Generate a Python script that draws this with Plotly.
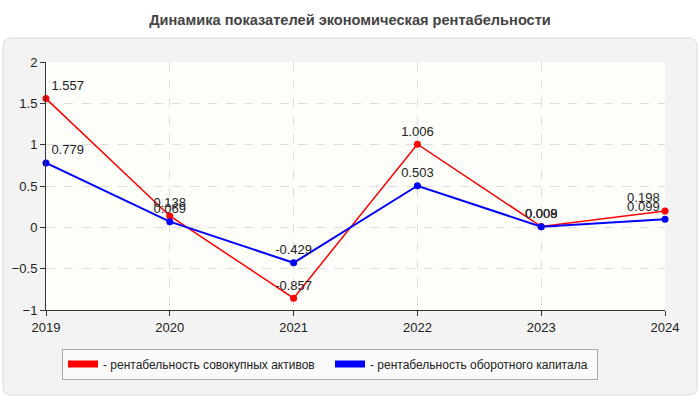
import plotly.graph_objects as go

years = [2019, 2020, 2021, 2022, 2023, 2024]
assets_return = [1.557, 0.138, -0.857, 1.006, 0.009, 0.198]
capital_return = [0.779, 0.069, -0.429, 0.503, 0.008, 0.099]

name_assets = "- рентабельность совокупных активов"
name_capital = "- рентабельность оборотного капитала"

# plot area in pixels: x 46..665, y 62..310
L, R, T, B = 46, 35, 62, 90
W, H = 700 - L - R, 400 - T - B


def px(x):
    return (x - L) / W


def py(y):
    return (400 - B - y) / H


def rounded(x0, y0, x1, y1, r):
    # rounded rect in paper coords from pixel coords
    return (f"M {px(x0 + r)},{py(y0)} L {px(x1 - r)},{py(y0)} Q {px(x1)},{py(y0)} {px(x1)},{py(y0 + r)} "
            f"L {px(x1)},{py(y1 - r)} Q {px(x1)},{py(y1)} {px(x1 - r)},{py(y1)} "
            f"L {px(x0 + r)},{py(y1)} Q {px(x0)},{py(y1)} {px(x0)},{py(y1 - r)} "
            f"L {px(x0)},{py(y0 + r)} Q {px(x0)},{py(y0)} {px(x0 + r)},{py(y0)} Z")


# labels centred above the points, kept inside the plot at the ends
positions = ["top right"] + ["top center"] * (len(years) - 2) + ["top left"]

fig = go.Figure()
fig.add_trace(go.Scatter(x=years, y=assets_return, mode="lines+markers+text",
                         line=dict(color="#ff0000", width=1.5), marker=dict(color="#ff0000", size=7),
                         text=[str(v) for v in assets_return], textposition=positions,
                         textfont=dict(size=13, color="#222"), showlegend=False, cliponaxis=False))
fig.add_trace(go.Scatter(x=years, y=capital_return, mode="lines+markers+text",
                         line=dict(color="#0000ff", width=2), marker=dict(color="#0000ff", size=7),
                         text=[str(v) for v in capital_return], textposition=positions,
                         textfont=dict(size=13, color="#222"), showlegend=False, cliponaxis=False))
# legend entries
fig.add_trace(go.Scatter(x=[None], y=[None], mode="lines", name=name_assets,
                         line=dict(color="#ff0000", width=7)))
fig.add_trace(go.Scatter(x=[None], y=[None], mode="lines", name=name_capital,
                         line=dict(color="#0000ff", width=7)))

fig.update_layout(
    width=700, height=400,
    margin=dict(l=L, r=R, t=T, b=B),
    paper_bgcolor="white", plot_bgcolor="#fdfdfa",
    font=dict(family="Liberation Sans, Arial", size=12, color="#222"),
    title=dict(text="<b>Динамика показателей экономическая рентабельности</b>",
               x=0.5, xanchor="center", y=0.95, yanchor="middle",
               font=dict(size=14.6, color="#444")),
    shapes=[
        dict(type="path", xref="paper", yref="paper", path=rounded(3, 38, 697, 395, 8),
             fillcolor="#f3f3f3", line=dict(color="#dcdcdc", width=1), layer="below"),
        dict(type="rect", xref="paper", yref="paper", x0=0, x1=1, y0=0, y1=1,
             fillcolor="#fdfdfa", line=dict(width=0), layer="below"),
    ],
    legend=dict(orientation="h", x=px(62), xanchor="left", y=py(364), yanchor="middle",
                bgcolor="#fafafa", bordercolor="#aaa", borderwidth=1,
                font=dict(size=12, color="#222"), itemwidth=30,
                entrywidthmode="pixels", entrywidth=222),
)
fig.update_xaxes(range=[2019, 2024], tickvals=years, showline=True, linecolor="#333",
                 ticks="outside", ticklen=5, tickcolor="#333", showgrid=True,
                 gridcolor="#dddddd", griddash="dash", zeroline=False,
                 tickfont=dict(size=13, color="#222"))
fig.update_yaxes(range=[-1, 2], dtick=0.5, showline=True, linecolor="#333",
                 ticks="outside", ticklen=5, tickcolor="#333", showgrid=True,
                 gridcolor="#dddddd", griddash="dash", zeroline=False,
                 tickfont=dict(size=13, color="#222"))

fig.write_html("out.html", config={"displayModeBar": False},
               post_script="document.body.style.margin='0';")
